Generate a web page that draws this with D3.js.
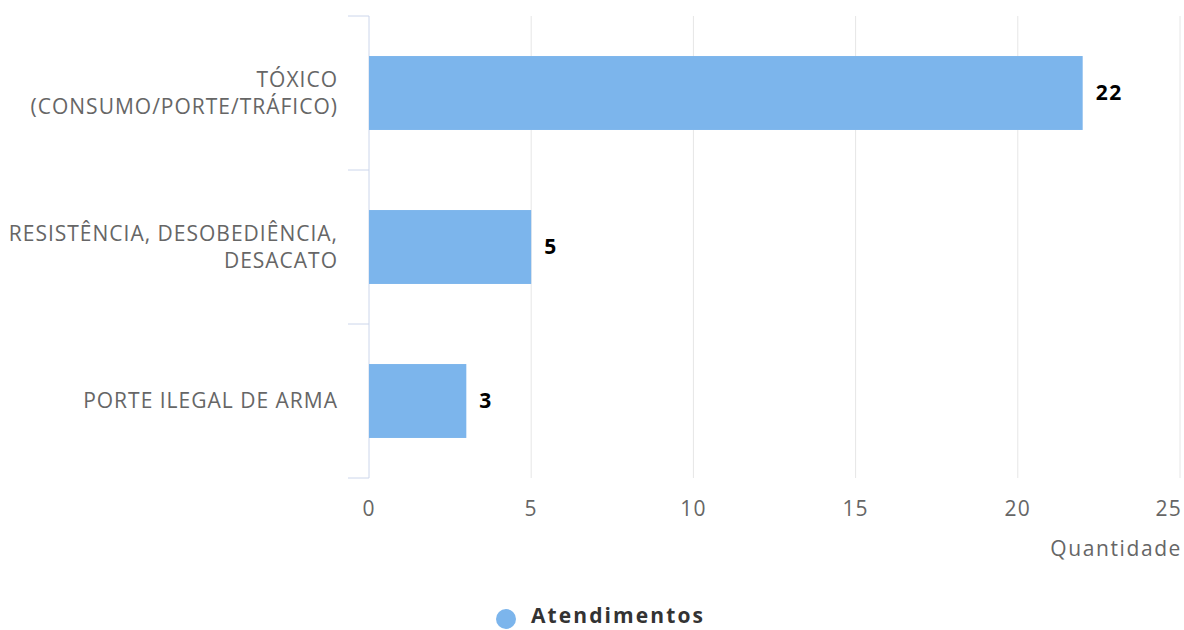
<!DOCTYPE html>
<html><head><meta charset="utf-8">
<script src="https://cdn.jsdelivr.net/npm/d3@7"></script>
<style>body{margin:0;background:#fff;} svg{display:block;font-family:"Open Sans",sans-serif;}</style>
</head><body>
<svg id="c" width="1184" height="630"></svg>
<script>
const categories = [["TÓXICO","(CONSUMO/PORTE/TRÁFICO)"],["RESISTÊNCIA, DESOBEDIÊNCIA,","DESACATO"],["PORTE ILEGAL DE ARMA"]];
const values = [22, 5, 3];
const xTicks = [0, 5, 10, 15, 20, 25];
const seriesName = "Atendimentos";
const axisTitle = "Quantidade";

(function(){
const svg = d3.select("#c");
const pL = 369, pR = 1180, pT = 16, pB = 478;
const LS = "1.2px";
const x = d3.scaleLinear().domain([0, 25]).range([pL, pR]);
const y = d3.scaleBand().domain(d3.range(categories.length)).range([pT, pB]).paddingInner(0.52).paddingOuter(0.26);
const yb = d3.scaleBand().domain(d3.range(categories.length)).range([pT, pB]);

// grid
svg.append("g").selectAll("line").data(xTicks.slice(1)).join("line")
  .attr("x1", d => x(d)).attr("x2", d => x(d)).attr("y1", pT).attr("y2", pB)
  .attr("stroke", "#e6e6e6").attr("stroke-width", 1);

// y axis line and ticks
svg.append("line").attr("x1", pL).attr("x2", pL).attr("y1", pT).attr("y2", pB).attr("stroke", "#ccd6eb");
const tickPos = d3.range(categories.length + 1).map(i => pT + i * yb.step());
svg.append("g").selectAll("line").data(tickPos).join("line")
  .attr("x1", pL - 21).attr("x2", pL).attr("y1", d => d).attr("y2", d => d).attr("stroke", "#ccd6eb");

// bars
svg.append("g").selectAll("rect").data(values).join("rect")
  .attr("x", pL).attr("y", (d, i) => y(i)).attr("width", d => x(d) - pL).attr("height", y.bandwidth())
  .attr("fill", "#7cb5ec");

// data labels
svg.append("g").selectAll("text").data(values).join("text")
  .attr("x", d => x(d) + 13).attr("y", (d, i) => y(i) + y.bandwidth() / 2)
  .attr("dy", "0.35em").attr("font-size", 21).attr("font-weight", "bold").attr("fill", "#000")
  .attr("letter-spacing", "1.5px").text(d => d);

// category labels
const cl = svg.append("g").selectAll("text").data(categories).join("text")
  .attr("text-anchor", "end").attr("font-size", 21).attr("fill", "#666666").attr("letter-spacing", "1px")
  .attr("transform", (d, i) => `translate(${pL - 31},${yb(i) + yb.bandwidth() / 2})`);
cl.each(function(lines) {
  const t = d3.select(this);
  const n = lines.length, lh = 27;
  lines.forEach((s, k) => {
    t.append("tspan").attr("x", 0).attr("y", (k - (n - 1) / 2) * lh).attr("dy", "0.35em").text(s);
  });
});

// x tick labels
svg.append("g").selectAll("text").data(xTicks).join("text")
  .attr("x", (d, i) => i === xTicks.length - 1 ? pR + 2 : x(d))
  .attr("y", 509).attr("dy", "0.35em")
  .attr("text-anchor", (d, i) => i === xTicks.length - 1 ? "end" : "middle")
  .attr("font-size", 21).attr("fill", "#666666").attr("letter-spacing", LS).text(d => d);

// axis title
svg.append("text").attr("x", pR + 2).attr("y", 549).attr("dy", "0.35em").attr("text-anchor", "end")
  .attr("font-size", 21).attr("fill", "#666666").attr("letter-spacing", "1.6px").text(axisTitle);

// legend
svg.append("circle").attr("cx", 506).attr("cy", 619).attr("r", 10).attr("fill", "#7cb5ec");
svg.append("text").attr("x", 531).attr("y", 616).attr("dy", "0.35em").attr("font-size", 21).attr("font-weight", "bold")
  .attr("fill", "#333333").attr("letter-spacing", "2.1px").text(seriesName);
})();
</script>
</body></html>
